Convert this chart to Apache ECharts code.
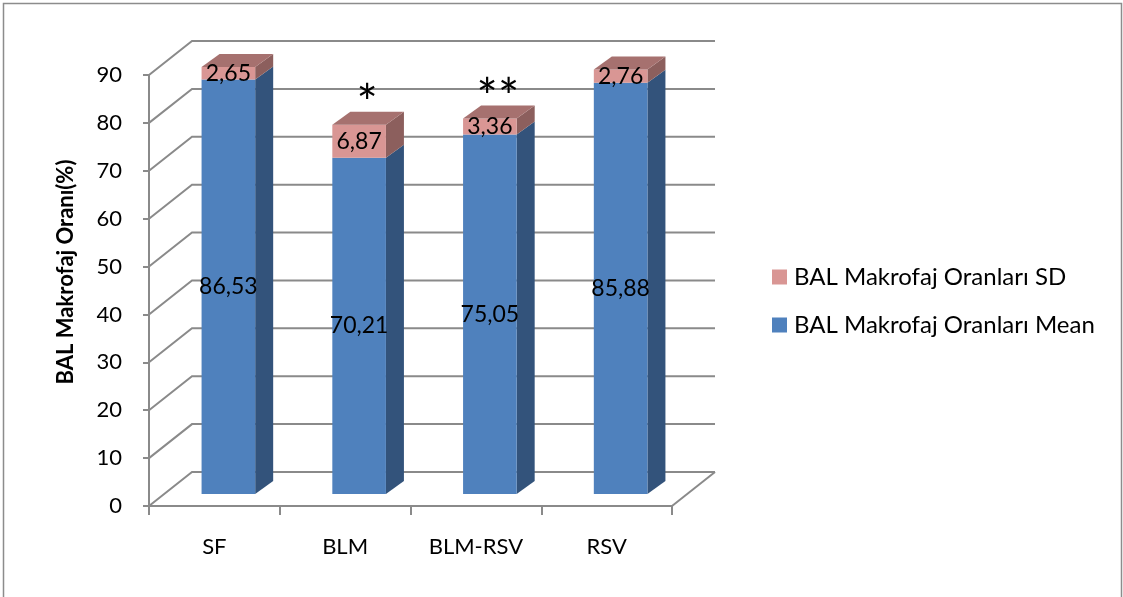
<!DOCTYPE html>
<html>
<head>
<meta charset="utf-8">
<script src="https://cdn.jsdelivr.net/npm/echarts@6/dist/echarts.min.js"></script>
<style>
html,body{margin:0;padding:0;background:#fff;}
#chart{width:1123px;height:597px;}
</style>
</head>
<body>
<div id="chart"></div>
<script>
var groups = ['SF', 'BLM', 'BLM-RSV', 'RSV'];
var meanData = [86.53, 70.21, 75.05, 85.88];
var sdData = [2.65, 6.87, 3.36, 2.76];
var starMarks = ['', '*', '**', ''];
var yTicks = [0, 10, 20, 30, 40, 50, 60, 70, 80, 90];
var yTitle = 'BAL Makrofaj Oranı(%)';
var meanName = 'BAL Makrofaj Oranları Mean';
var sdName = 'BAL Makrofaj Oranları SD';

// fake 3d: pixel offsets from the front axis plane
var barFront = [14, -12], barBack = [32, -25], wallBack = [43, -34];
var gridColor = '#8a8a8a';
var fmt = function (v) { return v.toFixed(2).replace('.', ','); };

function barRender(faceColor, sideColor, topColor, showTop) {
    return function (params, api) {
        var i = api.value(0);
        var lo = api.coord([i, api.value(1)]);
        var hi = api.coord([i, api.value(2)]);
        var w = api.size([1, 0])[0] * 0.41;
        var x0 = lo[0] - w / 2 + barFront[0], x1 = x0 + w;
        var yb = lo[1] + barFront[1], yt = hi[1] + barFront[1];
        var dx = barBack[0] - barFront[0], dy = barBack[1] - barFront[1];
        var children = [
            {type: 'polygon', shape: {points: [[x1, yb], [x1 + dx, yb + dy], [x1 + dx, yt + dy], [x1, yt]]}, style: {fill: sideColor}},
            {type: 'rect', shape: {x: x0, y: yt, width: w, height: yb - yt}, style: {fill: faceColor}}
        ];
        if (showTop) {
            children.push({type: 'polygon', shape: {points: [[x0, yt], [x1, yt], [x1 + dx, yt + dy], [x0 + dx, yt + dy]]}, style: {fill: topColor}});
        }
        children.push({type: 'text', x: (x0 + x1) / 2, y: (yb + yt) / 2,
            style: {text: fmt(api.value(3)), fill: '#000', font: '23px Lato', align: 'center', verticalAlign: 'middle'}});
        return {type: 'group', children: children};
    };
}

function wallRender(params, api) {
    var cs = params.coordSys;
    var v = api.value(1);
    var y = api.coord([0, v])[1];
    var left = cs.x, right = cs.x + cs.width;
    var children = [{type: 'polyline',
        shape: {points: [[left, y], [left + wallBack[0], y + wallBack[1]], [right + wallBack[0], y + wallBack[1]]]},
        style: {stroke: gridColor, lineWidth: 2, fill: null}}];
    if (v === 0) {
        children.push({type: 'line', shape: {x1: right, y1: y, x2: right + wallBack[0], y2: y + wallBack[1]},
            style: {stroke: gridColor, lineWidth: 2}});
    }
    return {type: 'group', children: children};
}

function starRender(params, api) {
    var i = params.dataIndex;
    var p = api.coord([api.value(0), api.value(1)]);
    var cx = p[0] + barFront[0] + 8;
    return {type: 'text', x: cx, y: p[1] - 7,
        style: {text: starMarks[i], fill: '#000', font: '50px Lato', align: 'center', verticalAlign: 'bottom'}};
}

var meanItems = groups.map(function (g, i) { return [i, 0, meanData[i], meanData[i]]; });
var sdItems = groups.map(function (g, i) { return [i, meanData[i], meanData[i] + sdData[i], sdData[i]]; });
var starItems = groups.map(function (g, i) { return [i, meanData[i] + sdData[i]]; });

var chart = echarts.init(document.getElementById('chart'));
chart.setOption({
    animation: false,
    textStyle: {fontFamily: 'Lato'},
    graphic: [
        {type: 'rect', shape: {x: 3.5, y: 3.5, width: 1118, height: 600},
            style: {fill: null, stroke: '#8c8c8c', lineWidth: 1.5}},
        {type: 'text', x: 66, y: 272, rotation: Math.PI / 2,
            style: {text: yTitle, font: 'bold 22px Lato', fill: '#000', align: 'center', verticalAlign: 'middle'}}
    ],
    legend: {
        orient: 'vertical', left: 767, top: 260, itemGap: 24,
        itemWidth: 15, itemHeight: 15, icon: 'rect',
        data: [sdName, meanName],
        textStyle: {fontSize: 24, color: '#000', fontFamily: 'Lato', padding: [0, 0, 0, 2]}
    },
    grid: {left: 149, right: 451, top: 75, bottom: 91},
    xAxis: {
        type: 'category', data: groups,
        axisLine: {lineStyle: {color: gridColor, width: 2}},
        axisTick: {show: true, length: 9, interval: 0, lineStyle: {color: gridColor, width: 2}},
        axisLabel: {fontSize: 22, color: '#000', margin: 30, interval: 0},
        splitLine: {show: false}
    },
    yAxis: {
        type: 'value', min: 0, max: 90, interval: 10,
        axisLine: {show: true, lineStyle: {color: gridColor, width: 2}},
        axisTick: {show: true, length: 6, lineStyle: {color: gridColor, width: 2}},
        axisLabel: {fontSize: 22, color: '#000', margin: 27},
        splitLine: {show: false}
    },
    series: [
        {type: 'custom', name: 'walls', z: 1, silent: true, renderItem: wallRender,
            data: yTicks.map(function (v) { return [0, v]; }), encode: {x: 0, y: 1}},
        {type: 'custom', name: meanName, z: 2, itemStyle: {color: '#4F81BD'},
            renderItem: barRender('#4F81BD', '#33537B', '#3F6797', false),
            data: meanItems, encode: {x: 0, y: [1, 2]}},
        {type: 'custom', name: sdName, z: 3, itemStyle: {color: '#D99694'},
            renderItem: barRender('#D99694', '#8C5F5D', '#A6716F', true),
            data: sdItems, encode: {x: 0, y: [1, 2]}},
        {type: 'custom', name: 'stars', z: 4, silent: true, renderItem: starRender,
            data: starItems, encode: {x: 0, y: 1}}
    ]
});
</script>
</body>
</html>
